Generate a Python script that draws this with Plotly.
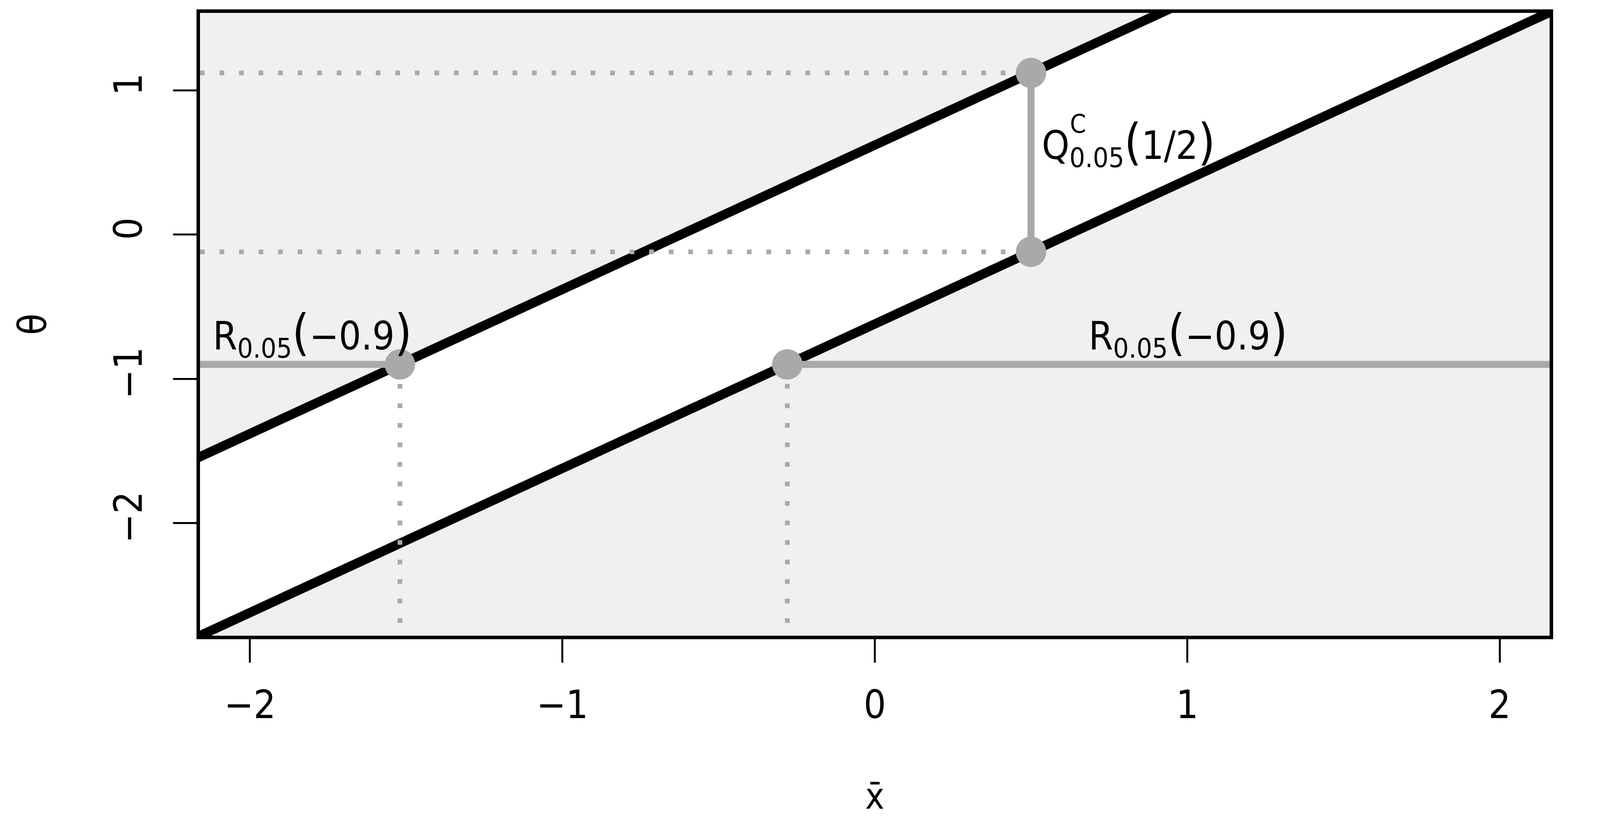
import plotly.graph_objects as go

# confidence band: theta = xbar + offset
band_offset = [0.62, -0.62]          # upper / lower limit
x_extent = [-3.0, 3.0]               # lines run past the plot frame
x_obs = [0.5]                        # observed xbar for the Q interval
theta_fixed = [-0.9]                 # theta for the R region
x_ticks = [-2, -1, 0, 1, 2]
y_ticks = [-2, -1, 0, 1]
x_range = [-2.16, 2.16]
y_range = [-2.78, 1.536]

GRAY = "#A9A9A9"
FILL = "#F0F0F0"
FONT = "DejaVu Sans Condensed, DejaVu Sans"

up, lo = band_offset
xb = x_obs[0]
th = theta_fixed[0]

fig = go.Figure()

# white band between the two limits (outside is the gray plot background)
fig.add_trace(go.Scatter(
    x=[x_extent[0], x_extent[1], x_extent[1], x_extent[0]],
    y=[x_extent[0] + up, x_extent[1] + up, x_extent[1] + lo, x_extent[0] + lo],
    fill="toself", fillcolor="white", line=dict(width=0), mode="lines",
    hoverinfo="skip"))

# the two limit lines
for off in band_offset:
    fig.add_trace(go.Scatter(
        x=x_extent, y=[x_extent[0] + off, x_extent[1] + off],
        mode="lines", line=dict(color="black", width=24)))

dots = dict(color=GRAY, width=12, dash="12px,38px")

# dotted guides from the Q interval end points to the theta axis
for off in band_offset:
    fig.add_trace(go.Scatter(x=[x_range[0], xb], y=[xb + off, xb + off],
                             mode="lines", line=dots))

# dotted guides from the R end points down to the x axis
for off in band_offset:
    fig.add_trace(go.Scatter(x=[th - off, th - off], y=[th, y_range[0]],
                             mode="lines", line=dots))

# R region: solid gray rays along theta = -0.9
fig.add_trace(go.Scatter(x=[x_range[0], th - up], y=[th, th], mode="lines",
                         line=dict(color=GRAY, width=18)))
fig.add_trace(go.Scatter(x=[th - lo, x_range[1]], y=[th, th], mode="lines",
                         line=dict(color=GRAY, width=18)))

# Q interval: vertical segment at xbar = 1/2
fig.add_trace(go.Scatter(x=[xb, xb], y=[xb + lo, xb + up], mode="lines",
                         line=dict(color=GRAY, width=18)))

# end points
fig.add_trace(go.Scatter(
    x=[xb, xb, th - up, th - lo], y=[xb + up, xb + lo, th, th],
    mode="markers", marker=dict(color=GRAY, size=78)))

big = "<span style='font-size:126px'>%s</span>"
r_label = "R<sub>0.05</sub>" + big % "(" + "\u22120.9" + big % ")"
q_label = "Q<sub>0.05</sub>" + big % "(" + "1/2" + big % ")"

ann = [
    dict(x=-1.80, y=-0.69, text=r_label, xanchor="center", yanchor="middle"),
    dict(x=1.003, y=-0.69, text=r_label, xanchor="center", yanchor="middle"),
    dict(x=0.532, y=0.63, text=q_label, xanchor="left", yanchor="middle"),
    dict(x=0.532, y=0.63, text="C", xanchor="left", yanchor="middle",
         xshift=72, yshift=50, font=dict(size=66, family=FONT, color="black")),
    dict(x=-0.124, y=0.5, xref="paper", yref="paper", text="\u03b8",
         textangle=-90, xanchor="center", yanchor="middle"),
    dict(x=0.5, y=-0.258, xref="paper", yref="paper", text="x\u0304",
         xanchor="center", yanchor="middle",
         font=dict(size=92, family=FONT, color="black")),
]
for a in ann:
    a.setdefault("showarrow", False)
    a.setdefault("font", dict(size=100, family=FONT, color="black"))
    fig.add_annotation(**a)

axis_style = dict(showline=True, mirror=True, linecolor="black", linewidth=9,
                  ticks="outside", ticklen=60, tickwidth=5, tickcolor="black",
                  showgrid=False, zeroline=False,
                  tickfont=dict(size=100, family=FONT, color="black"))

fig.update_xaxes(range=x_range, tickvals=x_ticks, ticklabelstandoff=22,
                 **axis_style)
fig.update_yaxes(range=y_range, tickvals=y_ticks, tickangle=-90,
                 ticklabelstandoff=40, **axis_style)

fig.update_layout(width=4200, height=2100, showlegend=False,
                  plot_bgcolor=FILL, paper_bgcolor="white",
                  margin=dict(l=504, r=241, t=25, b=480),
                  font=dict(family=FONT, color="black"))

fig.write_html("out.html")
